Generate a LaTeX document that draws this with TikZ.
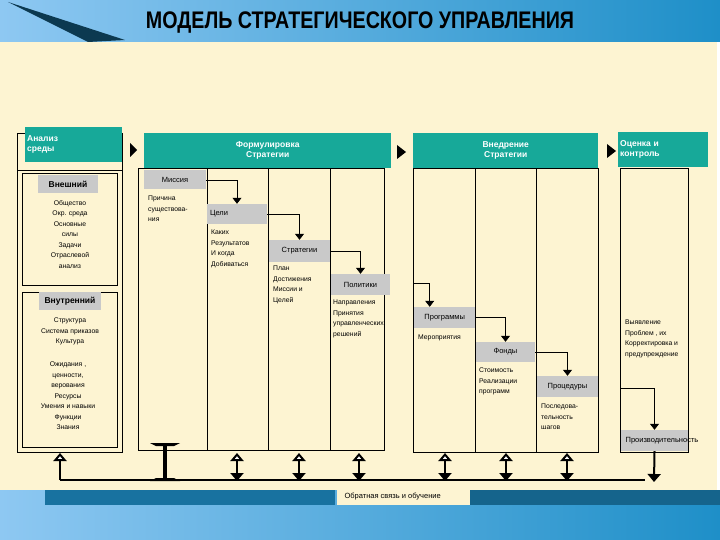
\documentclass[tikz,border=0pt]{standalone}
\usepackage{fontspec}
\setmainfont{Liberation Sans}
\usetikzlibrary{arrows.meta}
\definecolor{cream}{HTML}{FDF4D2}
\definecolor{teal}{HTML}{17A999}
\definecolor{lgray}{HTML}{C9C9C9}
\definecolor{skyA}{HTML}{8EC8F2}
\definecolor{skyB}{HTML}{1E8FC8}
\begin{document}
\begin{tikzpicture}[x=1pt,y=-1pt,
 hdr/.style={fill=teal,text=white,font=\bfseries\fontsize{8.5}{10}\selectfont,inner sep=2pt},
 lbl/.style={fill=lgray,font=\fontsize{7.5}{9}\selectfont,inner sep=1pt},
 txt/.style={font=\fontsize{6.8}{10.5}\selectfont,inner sep=0pt,align=left,anchor=north west},
 frm/.style={draw=black,line width=0.7pt},
 con/.style={draw=black,line width=0.7pt,-{Triangle[width=9pt,length=6pt]}},
 tri/.style={fill=black},
 fb/.style={line width=2pt},
 dbl/.style={line width=2pt,{Triangle[open,width=13pt,length=8pt,fill=white]}-{Triangle[width=13pt,length=8pt]}}]
\useasboundingbox (0,0) rectangle (720,540);
% background
\shade[left color=skyA,right color=skyB] (0,0) rectangle (720,42);
\shade[left color=skyA,right color=skyB] (0,490) rectangle (720,540);
\fill[skyB!80!black] (45,490) rectangle (335,505);
\fill[skyB!70!black] (470,490) rectangle (720,505);
\fill[cream] (0,42) rectangle (717,490);
\fill[skyB!40!black] (8,2) -- (125,40) -- (88,42) -- cycle;
\node[font=\bfseries\fontsize{24}{26}\selectfont] (title) at (360,23) {\scalebox{0.82}[1]{МОДЕЛЬ СТРАТЕГИЧЕСКОГО УПРАВЛЕНИЯ}};
% left block
\draw[frm] (17,452) -- (17,133) -- (25,133);
\draw[frm] (122,133) -- (122,452) -- (17,452);
\draw[frm] (17,170) -- (122,170);
\node[hdr,minimum width=97pt,minimum height=35pt,anchor=north west,align=left,text width=93pt] (an) at (25,127) {Анализ\\среды};
\draw[frm] (22,173) rectangle (117,285);
\draw[frm] (22,292) rectangle (117,447);
\node[lbl,font=\bfseries\fontsize{8.5}{10}\selectfont,minimum width=60pt,minimum height=18pt] (vn) at (68,184) {Внешний};
\node[lbl,font=\bfseries\fontsize{8.5}{10}\selectfont,minimum width=62pt,minimum height=18pt] (vt) at (70,301) {Внутренний};
\node[txt,anchor=north,align=center] (t1) at (70,200) {Общество\\Окр. среда\\Основные\\силы\\Задачи\\Отраслевой\\анализ};
\node[txt,anchor=north,align=center] (t2) at (70,318) {Структура\\Система приказов\\Культура};
\node[txt,anchor=north,align=center] (t3) at (68,362) {Ожидания ,\\ценности,\\верования\\Ресурсы\\Умения и навыки\\Функции\\Знания};
% big arrows
\fill[tri] (130,143) -- (137,150) -- (130,157) -- cycle;
\fill[tri] (397,145) -- (406,152) -- (397,159) -- cycle;
\fill[tri] (607,144) -- (616,151) -- (607,158) -- cycle;
% formulation
\draw[frm] (138,168) rectangle (384,450);
\foreach \x in {207,268,330} \draw[frm] (\x,168) -- (\x,450);
\node[hdr,minimum width=247pt,minimum height=35pt,anchor=north west,align=center] (fs) at (144,133) {Формулировка\\Стратегии};
% implementation
\draw[frm] (413,168) rectangle (598,452);
\foreach \x in {475,536} \draw[frm] (\x,168) -- (\x,452);
\node[hdr,minimum width=185pt,minimum height=35pt,anchor=north west,align=center] (vs) at (413,133) {Внедрение\\Стратегии};
% control
\draw[frm] (620,168) rectangle (688,452);
\node[hdr,minimum width=90pt,minimum height=35pt,anchor=north west,align=left,text width=86pt] (ok) at (618,132) {Оценка и\\контроль};
% gray labels
\node[lbl,minimum width=62pt,minimum height=19pt] (mis) at (175,180) {Миссия};
\node[lbl,minimum width=60pt,minimum height=20pt,align=left,text width=54pt] (cel) at (237,214) {Цели};
\node[lbl,minimum width=61pt,minimum height=22pt] (str) at (299.5,251) {Стратегии};
\node[lbl,minimum width=59pt,minimum height=21pt] (pol) at (360.5,284.5) {Политики};
\node[lbl,minimum width=61pt,minimum height=21pt,anchor=west] (prg) at (414,317.5) {Программы};
\node[lbl,minimum width=59pt,minimum height=20pt] (fon) at (505.5,352) {Фонды};
\node[lbl,minimum width=61pt,minimum height=21pt] (prc) at (567.5,386.5) {Процедуры};
\node[lbl,minimum width=67pt,minimum height=21pt] (prz) at (654.5,440.5) {};
\node[font=\fontsize{7.5}{9}\selectfont] (przt) at (662,440.5) {Производительность};
% texts
\node[txt] (m1) at (148,196) {Причина\\существова-\\ния};
\node[txt] (c1) at (211,230) {Каких\\Результатов\\И когда\\Добиваться};
\node[txt] (s1) at (273,266) {План\\Достижения\\Миссии и\\Целей};
\node[txt] (p1) at (333,300) {Направления\\Принятия\\управленческих\\решений};
\node[txt] (r1) at (418,335) {Мероприятия};
\node[txt] (f1) at (479,368) {Стоимость\\Реализации\\программ};
\node[txt] (q1) at (541,404) {Последова-\\тельность\\шагов};
\node[txt] (o1) at (625,320) {Выявление\\Проблем , их\\Корректировка и\\предупреждение};
% connectors
\coordinate (pe) at (413,283);
\coordinate (oe) at (620,388);
\draw[con] (mis.east) -| (cel.north);
\draw[con] (cel.east) -| (str.north);
\draw[con] (str.east) -| (pol.north);
\draw[con] (pe) -| ([xshift=-15pt]prg.north);
\draw[con] (prg.east) -| (fon.north);
\draw[con] (fon.east) -| (prc.north);
\draw[con] (oe) -| (prz.north);
% feedback
\coordinate (fl) at (60,480);
\coordinate (fr) at (645,480);
\draw[fb] (fl) -- (fr);
\draw[line width=2pt,-{Triangle[open,width=13pt,length=8pt,fill=white]}] (fl) -- (60,453);
\draw[line width=4pt] (165,445) -- (165,480);
\fill (150,443) -- (180,443) -- (174,446) -- (156,446) -- cycle;
\fill (150,481) -- (180,481) -- (174,478) -- (156,478) -- cycle;
\foreach \x in {237,299,359,445,506,567} \draw[dbl] (\x,453) -- (\x,481);
\draw[line width=2pt,-{Triangle[width=13pt,length=8pt]}] (prz.south) -- (654,482);
\node[fill=cream,minimum width=133pt,minimum height=15pt,anchor=north west,inner sep=0pt] (fbb) at (337,490) {};
\node[font=\fontsize{7.5}{9}\selectfont,anchor=west] (fbt) at (341,497) {Обратная связь и обучение};
\end{tikzpicture}
\end{document}
